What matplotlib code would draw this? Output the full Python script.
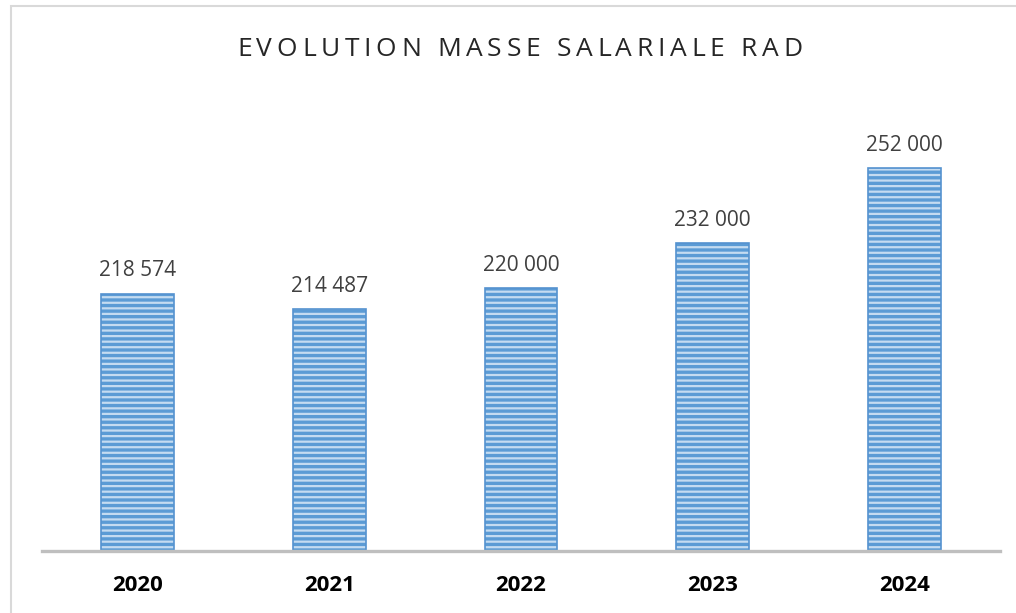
import matplotlib.pyplot as plt
from matplotlib.patches import Rectangle

years = ["2020", "2021", "2022", "2023", "2024"]
masse = [218574, 214487, 220000, 232000, 252000]
titre = "EVOLUTION MASSE SALARIALE RAD"


def fmt(v):
    return f"{v:,}".replace(",", " ")


plt.rcParams["font.family"] = ["Open Sans", "DejaVu Sans"]
plt.rcParams["hatch.linewidth"] = 1.6

fig = plt.figure(figsize=(10.16, 6.13), dpi=100)
W, H = 1016, 613

# light frame of the chart area (runs off right/bottom)
fig.patches.append(Rectangle((11 / W, -0.2), 1.2, 1.2 - 6 / H,
                             transform=fig.transFigure, fill=False,
                             edgecolor="#d9d9d9", linewidth=1.5))

ax = fig.add_axes([42 / W, 62 / H, 958 / W, 452 / H])
x = range(len(years))
# striped fill: hatch takes the edge colour, so draw outline separately
ax.bar(x, masse, width=0.38, color="#5b9bd5", edgecolor="#c4dbf1",
       hatch="---", linewidth=0, zorder=2)
ax.bar(x, masse, width=0.38, fill=False, edgecolor="#5592cf",
       linewidth=1.2, zorder=3)

ax.set_xlim(-0.5, 4.5)
ax.set_ylim(150000, 270500)
for s in ["top", "right", "left"]:
    ax.spines[s].set_visible(False)
ax.spines["bottom"].set_color("#bfbfbf")
ax.spines["bottom"].set_linewidth(2.4)
ax.spines["bottom"].set_zorder(4)
ax.set_yticks([])
ax.set_xticks(list(x))
ax.set_xticklabels(years, fontsize=16, fontweight="bold", color="black")
ax.tick_params(axis="x", length=0, pad=17)

for i, v in enumerate(masse):
    ax.annotate(fmt(v), (i, v), xytext=(0, 9), textcoords="offset points",
                ha="center", va="bottom", fontsize=15, color="#404040")

# title with wide letter spacing, laid out one glyph at a time
renderer = fig.canvas.get_renderer()
glyphs = []
for ch in titre:
    t = fig.text(0, 1 - 50 / H, ch, ha="left", va="center",
                 fontsize=19, color="#262626")
    glyphs.append((t, t.get_window_extent(renderer).width if ch != " " else 7.0))
natural = sum(w for _, w in glyphs)
track = (565 - natural) / (len(glyphs) - 1)
xpos = 237.0
for t, w in glyphs:
    t.set_x(xpos / W)
    xpos += w + track

fig.savefig("out.png", dpi=100, facecolor="white")
